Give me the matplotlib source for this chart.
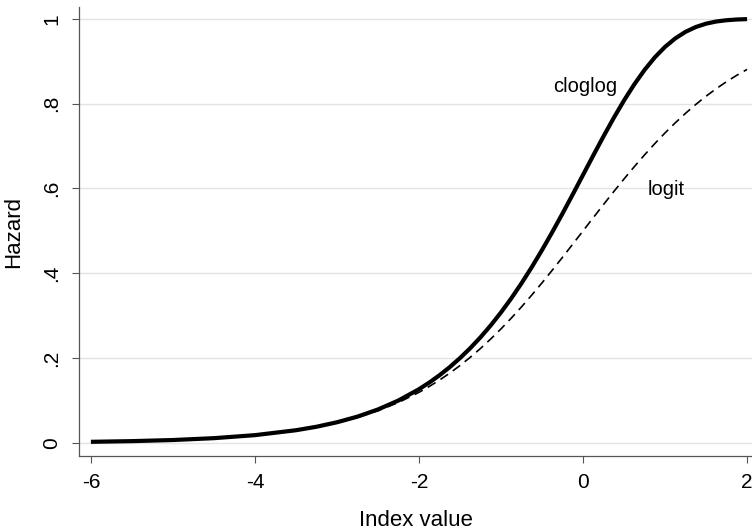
import matplotlib
matplotlib.use("Agg")
import matplotlib.pyplot as plt

plt.rcParams['font.family'] = ['Liberation Sans', 'DejaVu Sans']

# index values and hazards
index = [-6, -5.5, -5, -4.5, -4, -3.5, -3.25, -3, -2.75, -2.5, -2.25, -2,
         -1.875, -1.75, -1.625, -1.5, -1.375, -1.25, -1.125, -1,
         -0.875, -0.75, -0.625, -0.5, -0.375, -0.25, -0.125, 0,
         0.125, 0.25, 0.375, 0.5, 0.625, 0.75, 0.875, 1,
         1.125, 1.25, 1.375, 1.5, 1.625, 1.75, 1.875, 2]
cloglog = [0.0025, 0.0041, 0.0067, 0.0111, 0.0182, 0.0298, 0.0380, 0.0486,
           0.0619, 0.0788, 0.1000, 0.1266,
           0.1422, 0.1595, 0.1787, 0.2000, 0.2234, 0.2491, 0.2772, 0.3078,
           0.3409, 0.3765, 0.4145, 0.4548, 0.4971, 0.5410, 0.5862, 0.6321,
           0.6780, 0.7231, 0.7666, 0.8077, 0.8456, 0.8796, 0.9092, 0.9340,
           0.9540, 0.9695, 0.9808, 0.9887, 0.9938, 0.9968, 0.9985, 0.9994]
logit = [0.0025, 0.0041, 0.0067, 0.0110, 0.0180, 0.0293, 0.0373, 0.0474,
         0.0601, 0.0759, 0.0953, 0.1192,
         0.1330, 0.1481, 0.1645, 0.1824, 0.2018, 0.2227, 0.2451, 0.2689,
         0.2942, 0.3208, 0.3486, 0.3775, 0.4073, 0.4378, 0.4688, 0.5000,
         0.5312, 0.5622, 0.5927, 0.6225, 0.6514, 0.6792, 0.7058, 0.7311,
         0.7549, 0.7773, 0.7982, 0.8176, 0.8355, 0.8520, 0.8670, 0.8808]

xticks = [-6, -4, -2, 0, 2]
yticks = [0, 0.2, 0.4, 0.6, 0.8, 1]
ylabels = ['0', '.2', '.4', '.6', '.8', '1']

fig = plt.figure(figsize=(7.52, 5.30), dpi=100)
ax = fig.add_axes([0.105, 0.1396, 0.895, 0.8472])

ax.plot(index, cloglog, color='black', lw=3.0, solid_capstyle='butt')
ax.plot(index, logit, color='black', lw=1.2, linestyle=(0, (5.5, 3.5)))

ax.text(0.025, 0.84, 'cloglog', fontsize=14.5, ha='center', va='center')
ax.text(1.01, 0.597, 'logit', fontsize=14.5, ha='center', va='center')

ax.set_xlim(-6.146, 2.06)
ax.set_ylim(-0.031, 1.028)
ax.set_xticks(xticks)
ax.set_xticklabels([str(t) for t in xticks])
ax.set_yticks(yticks)
ax.set_yticklabels(ylabels, rotation=90, va='center')
ax.tick_params(labelsize=15, length=5, width=0.8, color='#555555')
ax.tick_params(axis='x', pad=7)
ax.tick_params(axis='y', pad=8)
ax.set_xlabel('Index value', fontsize=16, labelpad=13)
ax.set_ylabel('Hazard', fontsize=16, labelpad=13)

ax.grid(axis='y', color='#e3e3e3', lw=1)
ax.set_axisbelow(True)
for s in ['top', 'right']:
    ax.spines[s].set_visible(False)
for s in ['left', 'bottom']:
    ax.spines[s].set_color('#555555')
    ax.spines[s].set_linewidth(0.9)

fig.savefig('out.png', dpi=100)
